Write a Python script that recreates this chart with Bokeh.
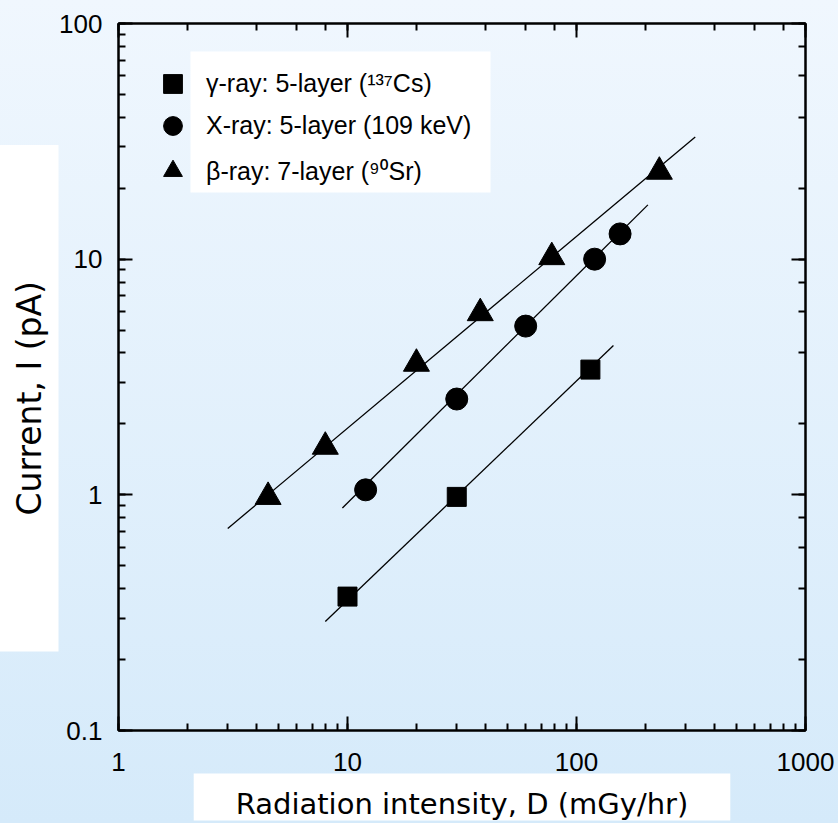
import math
from bokeh.plotting import figure
from bokeh.models import (Legend, LegendItem, LogAxis, LogTicker, Title,
                          CustomJSTickFormatter, BoxAnnotation)
from bokeh.embed import file_html
from bokeh.resources import INLINE

# ---- data ----
gamma_D = [10, 30, 115]
gamma_I = [0.37, 0.98, 3.4]
xray_D = [12, 30, 60, 120, 155]
xray_I = [1.05, 2.55, 5.2, 10.0, 12.8]
beta_D = [4.5, 8, 20, 38, 78, 230]
beta_I = [0.98, 1.6, 3.6, 5.9, 10.2, 23.5]

gamma_fit_D = [8, 145]
gamma_fit_I = [0.29, 4.3]
xray_fit_D = [9.5, 205]
xray_fit_I = [0.88, 17.0]
beta_fit_D = [3.0, 330]
beta_fit_I = [0.72, 33.0]

x_title = "Radiation intensity, D (mGy/hr)"
y_title = "Current, I (pA)"
labels = ["\u03b3-ray: 5-layer (\u00b9\u00b3\u2077Cs)",
          "X-ray: 5-layer (109 keV)",
          "\u03b2-ray: 7-layer (\u2079\u2070Sr)"]

X_RANGE = (1, 1000)
Y_RANGE = (0.1, 100)

FW, FH = 687, 707
BL, BT = 118, 23
BR, BB = 838 - BL - FW, 823 - BT - FH

p = figure(x_axis_type="log", y_axis_type="log",
           x_range=X_RANGE, y_range=Y_RANGE,
           frame_width=FW, frame_height=FH,
           min_border_left=BL, min_border_right=BR,
           min_border_top=BT, min_border_bottom=BB,
           output_backend="svg", toolbar_location=None)
p.background_fill_color = None
p.border_fill_color = None
p.outline_line_color = "black"
p.outline_line_width = 2
p.xgrid.visible = False
p.ygrid.visible = False

fmt = CustomJSTickFormatter(code="return Number(tick.toPrecision(3)).toString();")
blank = CustomJSTickFormatter(code="return '';")

def style_axis(ax, show):
    ax.axis_line_width = 2
    ax.axis_line_color = "black"
    ax.major_tick_in = 14
    ax.major_tick_out = 0
    ax.minor_tick_in = 7
    ax.minor_tick_out = 0
    ax.major_tick_line_width = 2
    ax.minor_tick_line_width = 2
    ax.major_label_text_font = "Liberation Sans"
    ax.major_label_text_font_size = "26px"
    ax.major_label_text_color = "black"
    ax.formatter = fmt if show else blank
    if not show:
        ax.major_label_text_font_size = "1px"

style_axis(p.xaxis[0], True)
style_axis(p.yaxis[0], True)
p.xaxis[0].major_label_standoff = 22
p.yaxis[0].major_label_standoff = 16

top_ax = LogAxis(ticker=LogTicker())
right_ax = LogAxis(ticker=LogTicker())
style_axis(top_ax, False)
style_axis(right_ax, False)
p.add_layout(top_ax, "above")
p.add_layout(right_ax, "right")

for fx, fy in [(gamma_fit_D, gamma_fit_I), (xray_fit_D, xray_fit_I), (beta_fit_D, beta_fit_I)]:
    p.line(fx, fy, line_color="black", line_width=1.3)

r_g = p.scatter(gamma_D, gamma_I, marker="square", size=19, color="black")
r_x = p.scatter(xray_D, xray_I, marker="circle", size=22, color="black")
r_b = p.scatter(beta_D, beta_I, marker="triangle", size=26, color="black")

def xd(px):  # pixels from frame left -> data x (layout helper)
    return 10 ** (math.log10(X_RANGE[0]) + px / FW * 3)

def yd(py):  # pixels from frame top -> data y (layout helper)
    return 10 ** (math.log10(Y_RANGE[1]) - py / FH * 3)

# white legend panel behind the labels
p.add_layout(BoxAnnotation(left=xd(72), right=xd(372), top=yd(28), bottom=yd(169),
                           fill_color="white", fill_alpha=1, line_color=None,
                           level="underlay"))

# one legend per entry so the markers can be large
G = 47
row_centers = [60, 102, 147]  # pixels from frame top
for lab, rend, rc in zip(labels, [r_g, r_x, r_b], row_centers):
    lg = Legend(items=[LegendItem(label=lab, renderers=[rend])],
                location=(31, FH - rc - G / 2),
                padding=0, margin=0, spacing=0,
                glyph_width=G, glyph_height=G, label_height=G,
                label_standoff=10,
                label_text_font="Liberation Sans, Noto Sans",
                label_text_font_size="25px",
                label_text_color="black",
                background_fill_alpha=0, border_line_color=None)
    p.add_layout(lg, "center")

# x title on a white panel below the axis
t = Title(text=x_title, align="center", vertical_align="top",
          text_font="DejaVu Sans", text_font_size="29px", text_font_style="normal",
          text_color="black", background_fill_color="white", standoff=0)
try:
    t.padding = dict(left=42, right=42, top=13, bottom=0)
except Exception:
    pass
p.add_layout(t, "below")

# y title on a white panel left of the axis
yt = Title(text=y_title, align="left", offset=79, vertical_align="middle",
           text_font="DejaVu Sans", text_font_size="33px", text_font_style="normal",
           text_color="black", background_fill_color="white", standoff=-258)
try:
    yt.padding = dict(left=136, right=136, top=10, bottom=10)
except Exception:
    pass
p.add_layout(yt, "left")

html = file_html(p, INLINE)
html = html.replace("</head>", "<style>html, body { background: linear-gradient(to bottom, #F0F7FE, #D5EAFA) !important; }</style></head>", 1)
open("out.html", "w").write(html)
